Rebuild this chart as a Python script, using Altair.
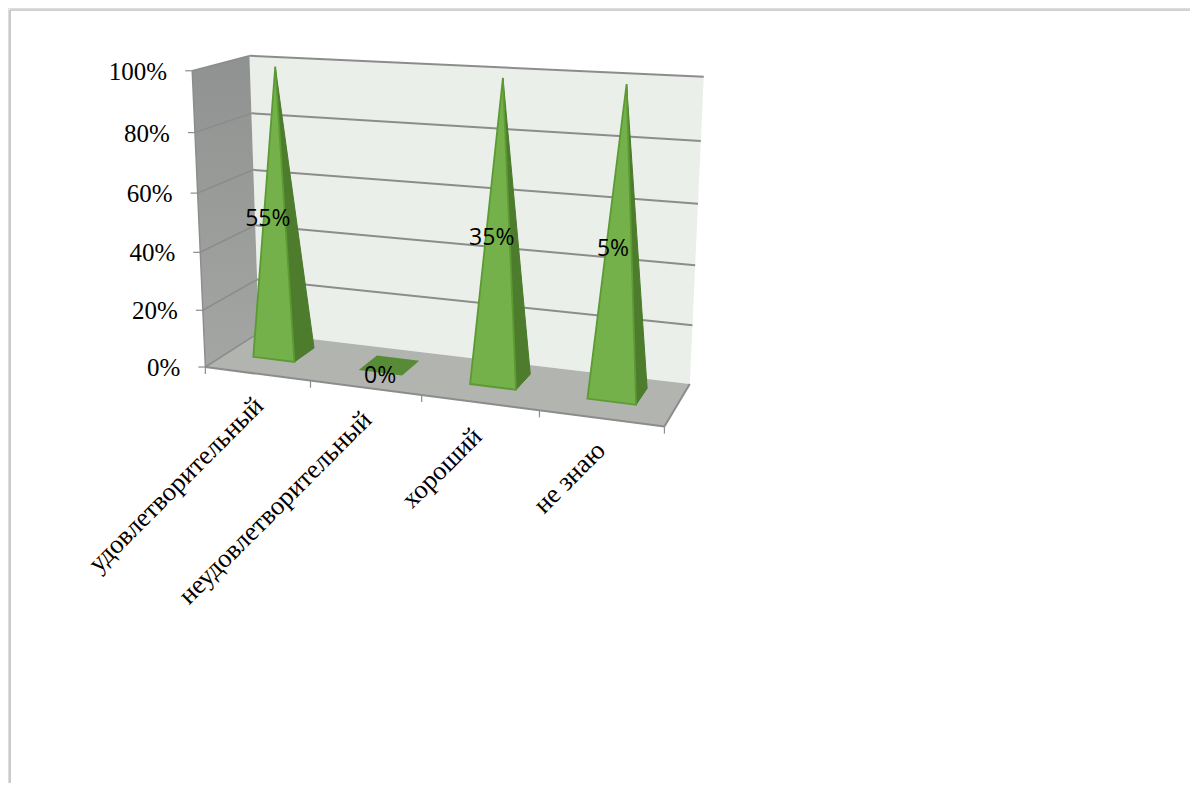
import numpy as np
import pandas as pd
import altair as alt

# ---- chart values ----
categories = ["удовлетворительный", "неудовлетворительный", "хороший", "не знаю"]
shares = [55, 0, 35, 5]
axis_ticks = [0, 20, 40, 60, 80, 100]

# ---- 3D box camera: calibrated from the box edges (category, level, depth) -> screen
d_front, d_back, d_mid, ha = 0.40, 0.79, 0.60, 0.2
calib_world = [
    (0, 0, 0), (1, 0, 0), (2, 0, 0), (3, 0, 0), (4, 0, 0),
    (0, 0, 1), (4, 0, 1), (0, 1, 1), (4, 1, 1), (0, 1, 0),
    (0.5, 1, d_mid), (2.5, 1, d_mid), (3.5, 1, d_mid),
    (0.5 - ha, 0, d_front), (0.5 + ha, 0, d_front), (0.5 + ha, 0, d_back),
    (2.5 - ha, 0, d_front), (2.5 + ha, 0, d_front), (2.5 + ha, 0, d_back),
    (3.5 - ha, 0, d_front), (3.5 + ha, 0, d_front), (3.5 + ha, 0, d_back),
    (4, .2, 1), (4, .4, 1), (4, .6, 1), (4, .8, 1),
    (0, .2, 0), (0, .4, 0), (0, .6, 0), (0, .8, 0),
]
calib_screen = [
    (206, 366), (310, 381), (422, 396), (540, 411), (665, 427),
    (259, 334), (690, 382), (250, 55), (704, 77), (192, 71),
    (275, 65), (503, 77), (627, 84),
    (253, 358), (295, 364), (316, 349),
    (470, 386), (516, 392), (531, 377),
    (587, 401), (634, 408), (648, 392),
    (692, 325), (695, 266), (698, 205), (701, 142),
    (203, 308), (200, 250), (198, 192), (195, 131),
]
corner_idx = {0, 4, 5, 6, 7, 8, 9}
A, b = [], []
for k, ((X_, Y_, Z_), (sx, sy)) in enumerate(zip(calib_world, calib_screen)):
    wt = 4.0 if k in corner_idx else 1.0
    A.append([wt * q for q in [X_, Y_, Z_, 1, 0, 0, 0, 0, -sx * X_, -sx * Y_, -sx * Z_]]); b.append(wt * sx)
    A.append([wt * q for q in [0, 0, 0, 0, X_, Y_, Z_, 1, -sy * X_, -sy * Y_, -sy * Z_]]); b.append(wt * sy)
p = np.linalg.lstsq(np.array(A, float), np.array(b, float), rcond=None)[0]


def proj(u, v, d):
    w = p[8] * u + p[9] * v + p[10] * d + 1
    return ((p[0] * u + p[1] * v + p[2] * d + p[3]) / w,
            (p[4] * u + p[5] * v + p[6] * d + p[7]) / w)


W, H = 1182, 775
xs = alt.Scale(domain=[8, 8 + W], range=[0, W], nice=False, zero=False)
ys = alt.Scale(domain=[8, 8 + H], range=[0, H], nice=False, zero=False)
X = alt.X("x:Q", scale=xs, axis=None)
Y = alt.Y("y:Q", scale=ys, axis=None)
layers = []


def poly(pts, fill, stroke=None, sw=0):
    df = pd.DataFrame([{"x": a, "y": c, "o": i} for i, (a, c) in enumerate(list(pts) + [pts[0]])])
    kw = dict(fill=fill, strokeWidth=sw, stroke=stroke if stroke else "transparent", interpolate="linear-closed", clip=False)
    layers.append(alt.Chart(df).mark_line(**kw).encode(x=X, y=Y, order="o:Q"))


def seg(a, c, color="#8C8C8C", sw=2.0):
    df = pd.DataFrame([{"x": a[0], "y": a[1], "o": 0}, {"x": c[0], "y": c[1], "o": 1}])
    layers.append(alt.Chart(df).mark_line(color=color, strokeWidth=sw).encode(x=X, y=Y, order="o:Q"))


def text(rows, **kw):
    layers.append(alt.Chart(pd.DataFrame(rows)).mark_text(**kw).encode(x=X, y=Y, text="t:N"))


# frame
seg((10, 10), (8 + W, 10), "#A6A6A6", 1.2)
seg((10, 10), (10, 8 + H), "#A6A6A6", 1.2)

# walls and floor
poly([proj(0, 0, 1), proj(4, 0, 1), proj(4, 1, 1), proj(0, 1, 1)], "#EAEFE9")
side_fill = alt.Gradient(gradient="linear", x1=0, y1=0, x2=0, y2=1,
                         stops=[alt.GradientStop(color="#8F9290", offset=0),
                                alt.GradientStop(color="#A3A6A2", offset=1)])
poly([proj(0, 0, 0), proj(0, 0, 1), proj(0, 1, 1), proj(0, 1, 0)], side_fill)
poly([proj(0, 0, 0), proj(4, 0, 0), proj(4, 0, 1), proj(0, 0, 1)], "#B1B4AF")

# gridlines
for t in axis_ticks:
    v = t / 100
    if t > 0:
        seg(proj(0, v, 1), proj(4, v, 1))
    seg(proj(0, v, 0), proj(0, v, 1), "#8C8C8C", 1.6)
    sx, sy = proj(0, v, 0)
    seg((sx - 7, sy), (sx, sy), "#8C8C8C", 1.2)
seg(proj(0, 0, 0), proj(0, 1, 0), "#8C8C8C", 1.4)
seg(proj(0, 0, 0), proj(4, 0, 0), "#8C8C8C", 2)
seg(proj(4, 0, 0), proj(4, 0, 1), "#8C8C8C", 2)
for i in range(5):
    sx, sy = proj(i, 0, 0)
    seg((sx, sy), (sx, sy + 7), "#8C8C8C", 1.2)

# pyramids: every non-zero category fills the 100 % stack
centre_shift = [-0.035, -0.025, -0.015, -0.01]
for i, s in enumerate(shares):
    c = i + 0.5 + centre_shift[i]
    front, back = d_front - 0.02, d_back - 0.01
    fl, fr = proj(c - ha, 0, front), proj(c + ha, 0, front)
    br, bl = proj(c + ha, 0, back), proj(c - ha, 0, back)
    if s == 0:
        poly([fl, fr, br, bl], "#578B35")
    else:
        apex = proj(c - 0.012, 0.99, d_mid)
        poly([fr, br, apex], "#4E7C2D", "#4B7A2B", 1)
        poly([fl, fr, apex], "#74B14A", "#5C9A33", 1.8)

# value labels
label_shift = [-13, -10, -11, -10]
rows = []
for i, s in enumerate(shares):
    lx, ly = proj(i + .5 + centre_shift[i], .5 if s else 0, d_mid)
    rows.append({"x": lx + label_shift[i], "y": ly + (7.5 if s else 11.5), "t": f"{s}%"})
text(rows, font="Open Sans", fontSize=23, color="#000000", align="center", baseline="middle")

# axis labels
rows = []
for t in axis_ticks:
    sx, sy = proj(0, t / 100, 0)
    rows.append({"x": sx - 25, "y": sy + 1, "t": f"{t}%"})
text(rows, font="Liberation Serif", fontSize=25, color="#000000", align="right", baseline="middle")

label_dx = [2, 2, -2, 0]
label_dy = [28, 28, 30, 28]
for i, name in enumerate(categories):
    sx, sy = proj(i + .5, 0, 0)
    text([{"x": sx + label_dx[i], "y": sy + label_dy[i], "t": name}], font="Liberation Serif", fontSize=26.5,
         color="#000000", align="right", baseline="middle", angle=315)

chart = alt.layer(*layers).properties(
    width=W, height=H, padding=0, autosize=alt.AutoSizeParams(type="none")
).configure_view(stroke=None).configure(background="#FFFFFF")
chart.save("out.html", embed_options={"renderer": "svg", "actions": False})
